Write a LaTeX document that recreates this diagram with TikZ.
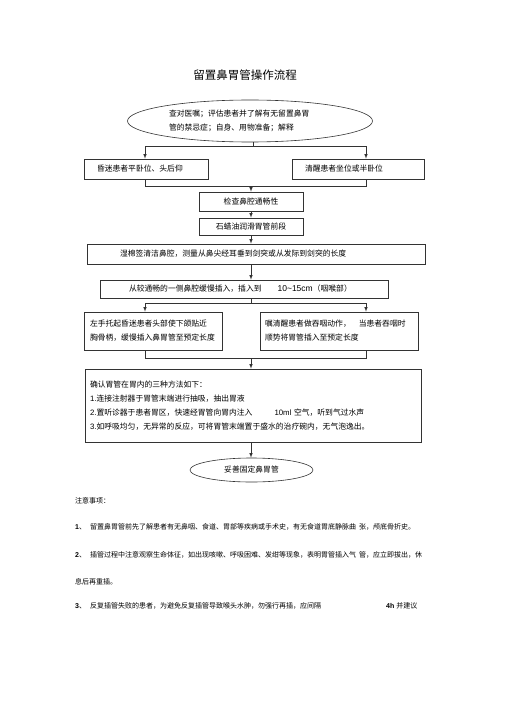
\documentclass[tikz,border=0pt]{standalone}
\usepackage{fontspec}
\setmainfont{Liberation Sans}
\newfontfamily\cjk{Noto Sans CJK SC}
\usepackage{tikz}
\usetikzlibrary{arrows, shapes.geometric}
\tikzset{>=latex}
\tikzset{
  stepBox/.style={shape=rectangle,draw=black!80,line width=0.6pt,fill=white,inner sep=0pt,font=\cjk\fontsize{7.8}{14}\selectfont},
  ovalNode/.style={shape=ellipse,draw=black!80,line width=0.6pt,fill=white,inner sep=0pt,font=\cjk\fontsize{7.8}{14}\selectfont},
  flowLink/.style={draw=black!80,line width=0.6pt},
  titleText/.style={inner sep=0pt,font=\cjk\fontsize{11.5}{14}\selectfont},
  noteText/.style={anchor=west,inner sep=0pt,font=\cjk\fontsize{7}{9}\selectfont}
}

\begin{document}
\begin{tikzpicture}[x=1pt,y=-1pt]
        \useasboundingbox (0,0) rectangle (505,714);
        \node (title) [titleText] at (245,75) {留置鼻胃管操作流程};

        \node[minimum width=245pt,minimum height=42pt,text width=162pt,align=left] (check) [ovalNode] at (250,121) {查对医嘱；评估患者并了解有无留置鼻胃\\管的禁忌症；自身、用物准备；解释};
        \node[minimum width=124pt,minimum height=20pt,text width=98pt,align=left] (coma) [stepBox] at (146,169) {昏迷患者平卧位、头后仰};
        \node[minimum width=132pt,minimum height=20pt,text width=106pt,align=left] (awake) [stepBox] at (358,169) {清醒患者坐位或半卧位};
        \node[minimum width=104pt,minimum height=19pt] (nose) [stepBox] at (251,201.5) {检查鼻腔通畅性};
        \node[minimum width=104pt,minimum height=17pt] (oil) [stepBox] at (251,226.5) {石蜡油润滑胃管前段};
        \node[minimum width=338pt,minimum height=20pt,text width=272pt,align=left] (measure) [stepBox] at (256,254) {湿棉签清洁鼻腔，测量从鼻尖经耳垂到剑突或从发际到剑突的长度};
        \node[minimum width=288pt,minimum height=18pt,text width=230pt,align=left] (insert) [stepBox] at (244,289) {从较通畅的一侧鼻腔缓慢插入，插入到\hspace{16pt}{\rmfamily\fontsize{8.5}{14}\selectfont 10\textasciitilde15cm}（咽喉部）};
        \node[minimum width=138pt,minimum height=38pt,text width=126pt,align=left] (hold) [stepBox] at (153,331) {左手托起昏迷患者头部使下颌贴近\\胸骨柄，缓慢插入鼻胃管至预定长度};
        \node[minimum width=158pt,minimum height=38pt,text width=148pt,align=left] (swallow) [stepBox] at (339,331) {嘱清醒患者做吞咽动作，\hspace{8pt}当患者吞咽时\\顺势将胃管插入至预定长度};
        \node[minimum width=336pt,minimum height=73pt,text width=326pt,align=left,font=\cjk\fontsize{7.8}{13.5}\selectfont] (confirm) [stepBox] at (253,405.5) {确认胃管在胃内的三种方法如下：\\{\rmfamily 1.}连接注射器于胃管末端进行抽吸，抽出胃液\\{\rmfamily 2.}置听诊器于患者胃区，快速经胃管向胃内注入\hspace{22pt}{\rmfamily 10ml} 空气，听到气过水声\\{\rmfamily 3.}如呼吸均匀，无异常的反应，可将胃管末端置于盛水的治疗碗内，无气泡逸出。\\[6pt]};
        \node[minimum width=123pt,minimum height=24pt] (fix) [ovalNode] at (251.5,470) {妥善固定鼻胃管};

        % turning points
        \coordinate (spine) at (251,0);
        \coordinate (legL) at (145,0);
        \coordinate (legR) at (366,0);
        \coordinate (splitA) at (253,146);
        \coordinate (mergeA) at (251,186);
        \coordinate (splitB) at (251,303);
        \coordinate (mergeB) at (251,358);

        \draw[flowLink] (splitA |- check.south) -- (splitA);
        \draw[flowLink,->] (splitA) -| (legL |- coma.north);
        \draw[flowLink,->] (splitA) -| (legR |- awake.north);
        \draw[flowLink] (legL |- coma.south) |- (legR |- mergeA) -- (legR |- awake.south);
        \draw[flowLink,->] (mergeA) -- (nose.north);

        \path
    (nose) edge [flowLink,->] (oil);
        \draw[flowLink,->] (spine |- oil.south) -- (spine |- measure.north);
        \draw[flowLink,->] (spine |- measure.south) -- (spine |- insert.north);

        \draw[flowLink] (spine |- insert.south) -- (splitB);
        \draw[flowLink,->] (splitB) -| (legL |- hold.north);
        \draw[flowLink,->] (splitB) -| (legR |- swallow.north);
        \draw[flowLink] (legL |- hold.south) |- (legR |- mergeB) -- (legR |- swallow.south);
        \draw[flowLink,->] (mergeB) -- (spine |- confirm.north);
        \draw[flowLink,->] (spine |- confirm.south) -- (spine |- fix.north);

        % notes
        \node (noteHead) [noteText] at (75,501) {注意事项：};
        \node (note1) [noteText] at (75,527) {{\rmfamily\bfseries 1}、\hspace{4pt}留置鼻胃管前先了解患者有无鼻咽、食道、胃部等疾病或手术史，有无食道胃底静脉曲\hspace{3pt}张，颅底骨折史。};
        \node (note2) [noteText] at (75,555) {{\rmfamily\bfseries 2}、\hspace{4pt}插管过程中注意观察生命体征，如出现咳嗽、呼吸困难、发绀等现象，表明胃管插入气\hspace{3pt}管，应立即拔出，休};
        \node (note2b) [noteText] at (75,582) {息后再重插。};
        \node (note3) [noteText] at (75,606) {{\rmfamily\bfseries 3}、\hspace{4pt}反复插管失败的患者，为避免反复插管导致喉头水肿，勿强行再插，应间隔};
        \node (note3b) [noteText] at (386,606) {{\rmfamily\bfseries 4h}\hspace{2pt}并建议};
\end{tikzpicture}
\end{document}
